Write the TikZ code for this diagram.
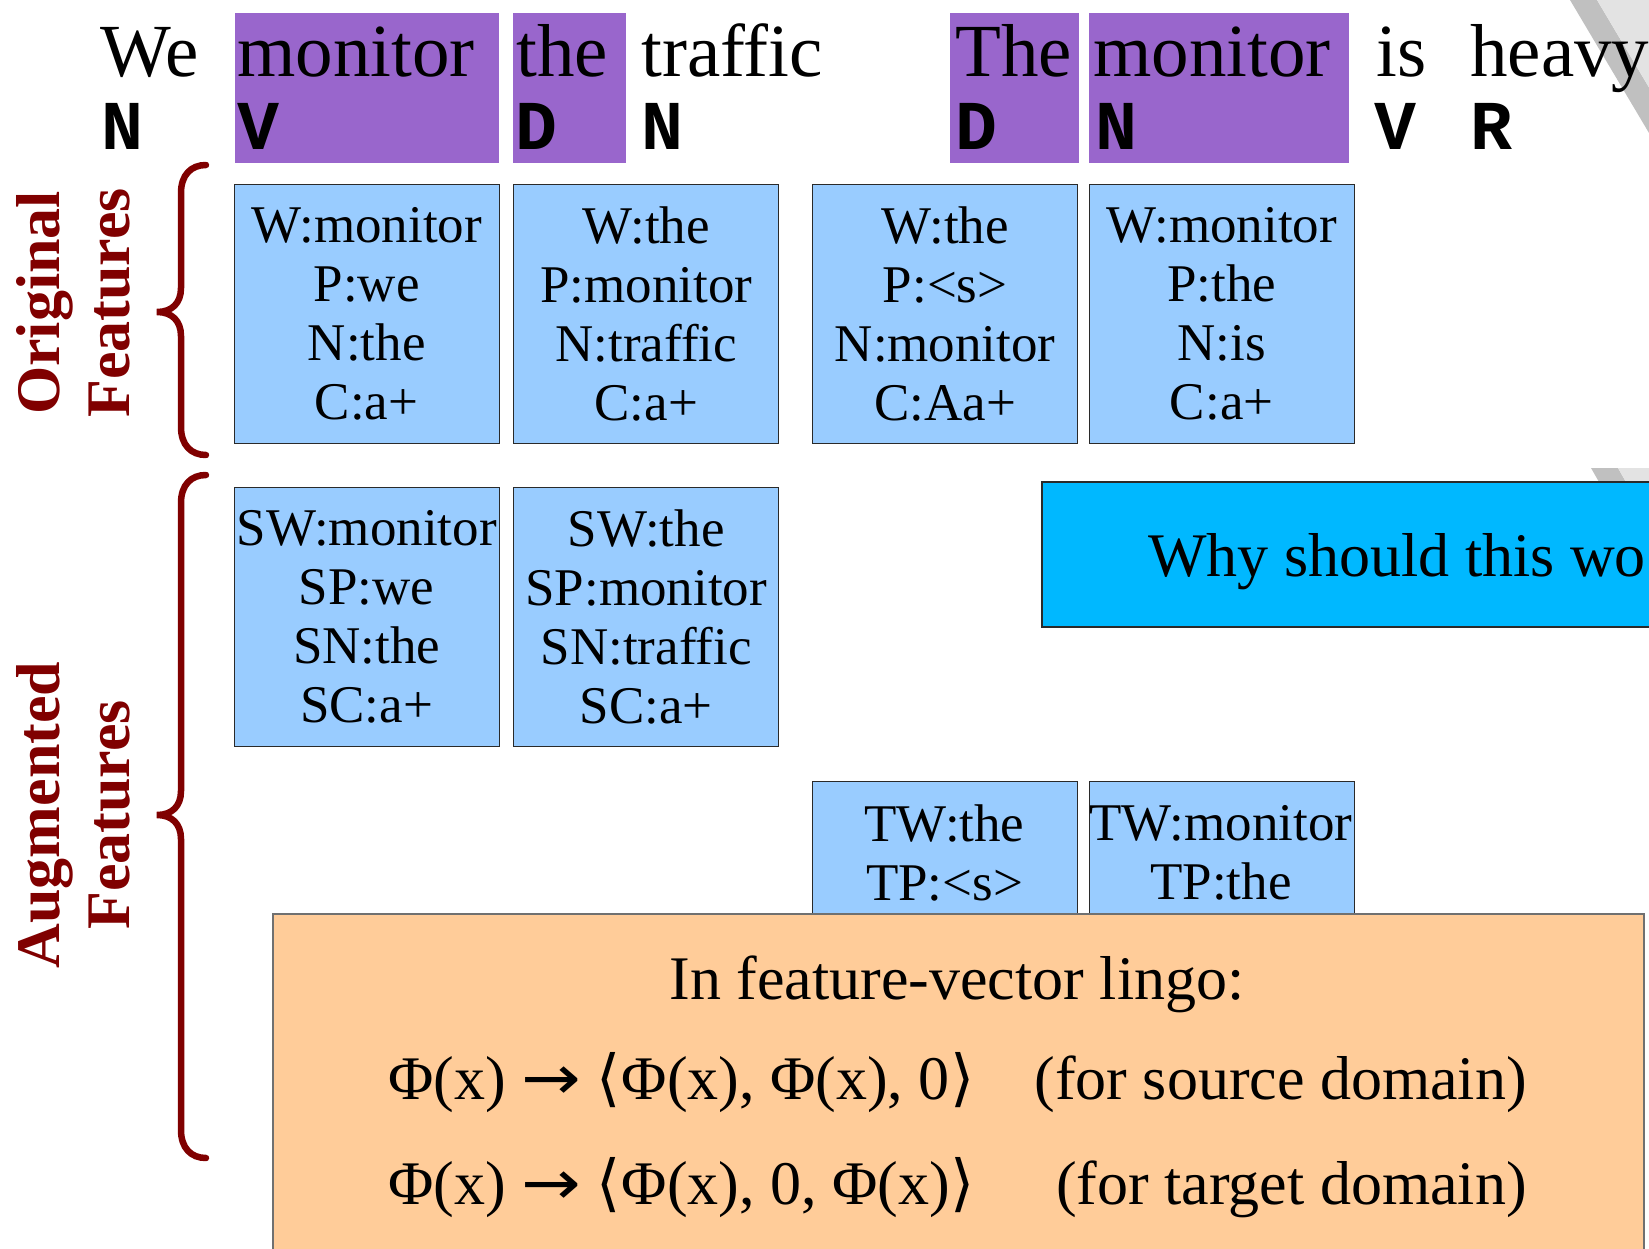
\documentclass[tikz,border=0pt]{standalone}
\usepackage{fontspec}
\usepackage{graphicx}
\setmainfont{Liberation Serif}
\newfontfamily\tagfont{Liberation Mono}
\newfontfamily\symfont{DejaVu Sans}

\definecolor{tagpurple}{HTML}{9966CC}
\definecolor{featblue}{HTML}{99CCFF}
\definecolor{whyblue}{HTML}{00B8FF}
\definecolor{lingo}{HTML}{FFCC99}
\definecolor{bracered}{HTML}{800000}
\definecolor{boxline}{HTML}{2A2A2A}
\definecolor{orangeline}{HTML}{707070}
\definecolor{stripedark}{HTML}{C0C0C0}
\definecolor{stripelight}{HTML}{E3E3E3}

% long arrow and angle brackets for the mapping lines
\newcommand\maparrow{\scalebox{1.15}[1]{\symfont →}}
\newcommand\lang{{\symfont ⟨}\kern1pt}
\newcommand\rang{\kern1pt{\symfont ⟩}}

\tikzset{
  word/.style={inner sep=0, anchor=base west, font=\fontsize{75}{80}\selectfont},
  postag/.style={inner sep=0, anchor=base west, font=\tagfont\bfseries\fontsize{70}{76}\selectfont},
  posbox/.style={fill=tagpurple, draw=none, inner sep=0, anchor=north west, minimum height=150.5},
  feat/.style={draw=boxline, line width=1.3, fill=featblue, inner sep=0, anchor=north west,
    minimum width=265, minimum height=259, align=center, font=\fontsize{53}{59}\selectfont},
  featlines/.style={inner sep=0, align=center, font=\fontsize{53}{59}\selectfont},
  brace/.style={draw=bracered, line width=6.5, line cap=round},
  sidelabel/.style={rotate=90, align=center, text=bracered, inner sep=0,
    font=\bfseries\fontsize{62}{70}\selectfont},
  whybox/.style={fill=whyblue, draw=boxline, line width=1.5, inner sep=0, anchor=north west},
  lingobox/.style={fill=lingo, draw=orangeline, line width=1.5, inner sep=0, anchor=north west},
  lingotext/.style={inner sep=0, font=\fontsize{62}{70}\selectfont},
}

\begin{document}
\begin{tikzpicture}[x=1pt, y=-1pt]
\useasboundingbox (0,0) rectangle (1649,1249);
\clip (0,0) rectangle (1649,1249);

% diagonal stripes in the corner
\fill[stripedark] (1570,0) -- (1597,0) -- (1649,87.5) -- (1649,133) -- cycle;
\fill[stripelight] (1597,0) -- (1649,0) -- (1649,87.5) -- cycle;
\fill[stripedark] (1591,468) -- (1618,468) -- (1626,482) -- (1599,482) -- cycle;
\fill[stripelight] (1618,468) -- (1649,468) -- (1649,482) -- (1626,482) -- cycle;

% highlighted words
\node[posbox, minimum width=264] (p1) at (234.5,12.6) {};
\node[posbox, minimum width=113] (p2) at (513,12.6) {};
\node[posbox, minimum width=129] (p3) at (950,12.6) {};
\node[posbox, minimum width=260] (p4) at (1088.5,12.6) {};

% sentences
\node[word] (w1) at (100,77) {We};
\node[word] (w2) at (237,77) {monitor};
\node[word] (w3) at (516,77) {the};
\node[word] (w4) at (641,77) {traffic};
\node[word] (w5) at (955,77) {The};
\node[word] (w6) at (1093,77) {monitor};
\node[word] (w7) at (1376,77) {is};
\node[word] (w8) at (1470,77) {heavy};

% part-of-speech tags
\node[postag] (t1) at (101,150) {N};
\node[postag] (t2) at (237,150) {V};
\node[postag] (t3) at (515,150) {D};
\node[postag] (t4) at (641,150) {N};
\node[postag] (t5) at (955,150) {D};
\node[postag] (t6) at (1095,150) {N};
\node[postag] (t7) at (1374,150) {V};
\node[postag] (t8) at (1470,150) {R};

% original features
\node[feat] (o1) at (233.5,184) {W:monitor\\P:we\\N:the\\C:a+};
\node[feat] (o2) at (513,184) {W:the\\P:monitor\\N:traffic\\C:a+};
\node[feat] (o3) at (812,184) {W:the\\P:<s>\\N:monitor\\C:Aa+};
\node[feat] (o4) at (1088.5,184) {W:monitor\\P:the\\N:is\\C:a+};

% augmented source features
\node[feat] (s1) at (233.5,487) {SW:monitor\\SP:we\\SN:the\\SC:a+};
\node[feat] (s2) at (513,487) {SW:the\\SP:monitor\\SN:traffic\\SC:a+};

% augmented target features
\node[feat] (g1) at (812,781) {};
\node[feat] (g2) at (1088.5,781) {};
\node[featlines] (g1t) at (944.5,852.5) {TW:the\\TP:<s>};
\node[featlines] (g2t) at (1221,852.5) {TW:monitor\\TP:the};

% braces
\draw[brace] (206,165) .. controls (191,165) and (181,175) .. (181,193) -- (181,288)
  .. controls (181,303) and (172,312) .. (157,312)
  .. controls (172,312) and (181,321) .. (181,336) -- (181,427)
  .. controls (181,445) and (191,455) .. (206,455);
\draw[brace] (206,475) .. controls (191,475) and (181,485) .. (181,503) -- (181,791)
  .. controls (181,806) and (172,815) .. (157,815)
  .. controls (172,815) and (181,824) .. (181,839) -- (181,1130)
  .. controls (181,1148) and (191,1158) .. (206,1158);

% side labels
\node[sidelabel] (lab1) at (73.5,303) {Original\\Features};
\node[sidelabel] (lab2) at (73.5,815) {Augmented\\Features};

% question box
\node[whybox, minimum width=700, minimum height=145] (why) at (1041,481) {};
\node[lingotext, anchor=base west] (whyt) at (1148,576) {Why should this wo};

% feature-vector box
\node[lingobox, minimum width=1371, minimum height=400] (lingo) at (272,913) {};
\node[lingotext, anchor=base] (l1) at (957,999) {In feature-vector lingo:};
\node[lingotext, anchor=base west] (l2) at (388,1099)
  {Φ(x) \maparrow{} \lang Φ(x), Φ(x), 0\rang};
\node[lingotext, anchor=base east] (l2r) at (1527,1099) {(for source domain)};
\node[lingotext, anchor=base west] (l3) at (388,1204)
  {Φ(x) \maparrow{} \lang Φ(x), 0, Φ(x)\rang};
\node[lingotext, anchor=base east] (l3r) at (1527,1204) {(for target domain)};
\end{tikzpicture}
\end{document}
